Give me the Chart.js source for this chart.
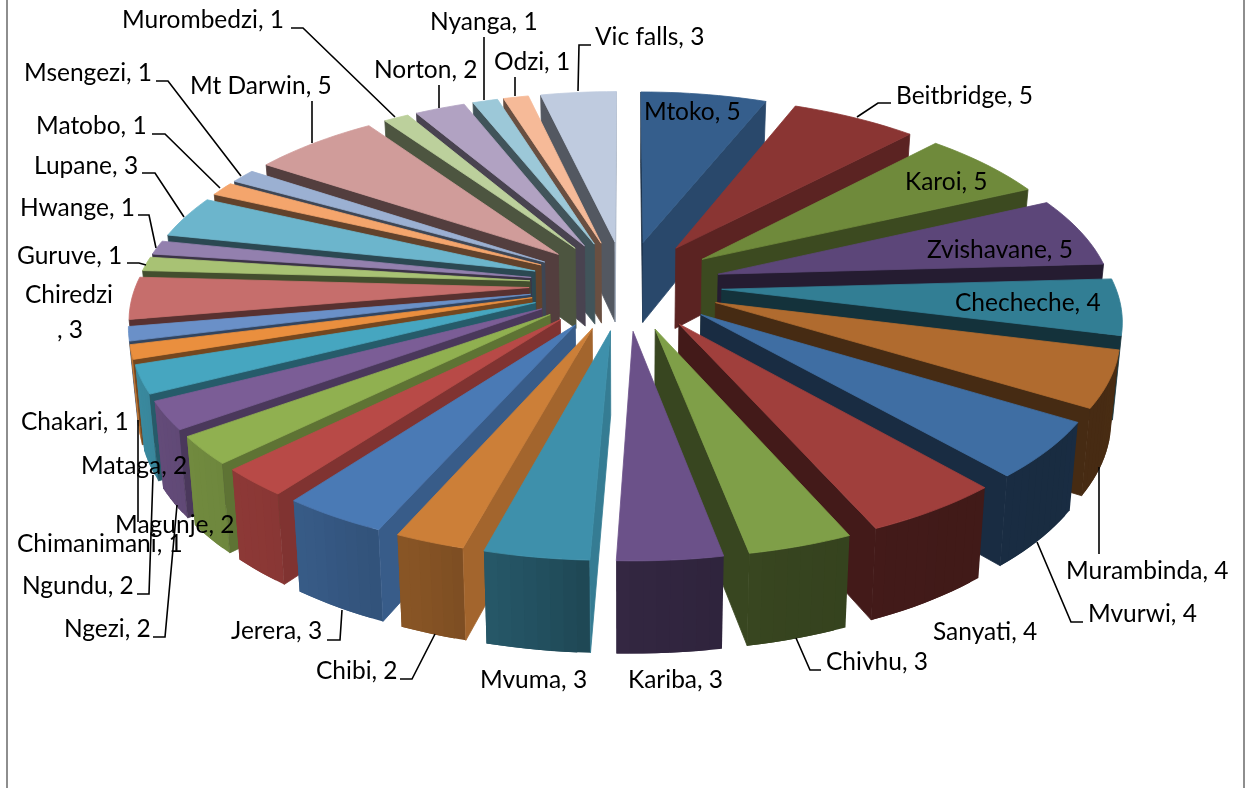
<!DOCTYPE html>
<html>
<head>
<meta charset="utf-8">
<title>Sites</title>
<script src="https://cdn.jsdelivr.net/npm/chart.js@4"></script>
<style>
  html, body { margin: 0; padding: 0; background: #fff; }
  canvas { display: block; }
</style>
</head>
<body>
<canvas id="grafico" width="1248" height="788"></canvas>
<script>
const categories = ["Mtoko", "Beitbridge", "Karoi", "Zvishavane", "Checheche", "Murambinda", "Mvurwi", "Sanyati",
    "Chivhu", "Kariba", "Mvuma", "Chibi", "Jerera", "Ngezi", "Ngundu", "Magunje", "Mataga", "Chimanimani", "Chakari",
    "Chiredzi", "Guruve", "Hwange", "Lupane", "Matobo", "Msengezi", "Mt Darwin", "Murombedzi", "Norton", "Nyanga",
    "Odzi", "Vic falls"];
const values = [5, 5, 5, 5, 4, 4, 4, 4, 3, 3, 3, 2, 3, 2, 2, 2, 2, 1, 1, 3, 1, 1, 3, 1, 1, 5, 1, 2, 1, 1, 3];
const sliceColors = ["#355e8c", "#8a3533", "#6f8a3b", "#5c4679", "#327e94", "#b06b2f", "#3f6ea3", "#a03f3c",
    "#7f9f48", "#6b5189", "#3e90ab", "#cc7f38", "#4a7ab5", "#b84a47", "#90b050", "#7b5d96", "#46a6c0", "#ea8f3e",
    "#6a90c8", "#c66e6c", "#a8c274", "#9380ae", "#6cb5cc", "#f4a56c", "#9bb0d2", "#d09c9a", "#bcd09c", "#b1a2c2",
    "#9cc8d8", "#f6ba98", "#bfcbdf"];

// label anchors: [left, middle y], same order as categories
const labelSpots = [[644, 112], [896, 96], [905, 182], [927, 250], [955, 303], [1066, 571], [1088, 614], [933, 632],
    [826, 662], [628, 680], [480, 680], [316, 671], [231, 631], [64, 629], [22, 586], [115, 525], [81, 466], [17, 544],
    [21, 422], [25, 295], [17, 256], [20, 208], [34, 166], [36, 126], [24, 73], [190, 86], [122, 20], [374, 70],
    [430, 22], [494, 62], [595, 37]];
const leaderLines = [
    [[891, 103], [878, 103], [857, 117]],
    [[1099, 554], [1099, 467]],
    [[1083, 622], [1071, 622], [1037, 542]],
    [[821, 670], [810, 670], [796, 638]],
    [[400, 679], [412, 679], [435, 634]],
    [[327, 640], [340, 640], [342, 610]],
    [[153, 637], [165, 637], [177, 505]],
    [[137, 594], [149, 594], [153, 475]],
    [[138, 522], [138, 420]],
    [[127, 263], [139, 263], [146, 265]],
    [[138, 215], [149, 215], [156, 248]],
    [[142, 173], [155, 173], [184, 217]],
    [[152, 134], [165, 134], [220, 188]],
    [[156, 81], [168, 81], [241, 176]],
    [[312, 101], [312, 143]],
    [[291, 28], [303, 28], [395, 117]],
    [[439, 85], [439, 108]],
    [[484, 37], [484, 100]],
    [[515, 77], [515, 96]],
    [[591, 45], [579, 45], [578, 91]]
];

// tilted view of the pie plane
const view = { cx: 625.5, cy: 285, scale: 1.12, distance: 2788, tilt: 0.465, depth: 82, depthGrow: 0.022, taper: 0.018 };

// brightness of the walls against the compass direction they face (degrees, clockwise from the back)
const sideShade = [[0, 0.4], [90, 0.87], [115, 0.75], [140, 0.63], [177, 0.4], [225, 0.4], [250, 0.42], [270, 0.46], [360, 0.4]];
const rimShade = [[0, 0.45], [130, 0.4], [150, 0.41], [165, 0.43], [180, 0.47], [190, 0.57], [200, 0.65], [215, 0.74], [240, 0.8], [260, 0.85], [360, 0.45]];

function shadeAt(table, deg) {
    deg = (deg % 360 + 360) % 360;
    for (let i = 1; i < table.length; i++) {
        if (deg <= table[i][0]) {
            const t = (deg - table[i - 1][0]) / (table[i][0] - table[i - 1][0]);
            return table[i - 1][1] + t * (table[i][1] - table[i - 1][1]);
        }
    }
    return table[table.length - 1][1];
}

function darken(hex, k) {
    const n = parseInt(hex.slice(1), 16);
    return `rgb(${Math.round((n >> 16) * k)},${Math.round(((n >> 8) & 255) * k)},${Math.round((n & 255) * k)})`;
}

function project(px, pz) {
    const f = view.distance / (view.distance - pz);
    const x = view.cx + px * f;
    const y = view.cy + pz * view.tilt * f;
    return {
        x, y,
        bx: view.cx + (x - view.cx) * (1 - view.taper),
        by: y + view.depth + pz * view.depthGrow
    };
}

function fillPoly(ctx, pts, color, edge) {
    ctx.beginPath();
    pts.forEach((p, i) => i ? ctx.lineTo(p[0], p[1]) : ctx.moveTo(p[0], p[1]));
    ctx.closePath();
    ctx.fillStyle = color;
    ctx.fill();
    if (edge) {
        ctx.strokeStyle = color;
        ctx.lineWidth = 0.8;
        ctx.stroke();
    }
}

// negative area on screen means the wall looks at the viewer
function wall(ctx, a, b, color, edge) {
    const q = [[a.x, a.y], [b.x, b.y], [b.bx, b.by], [a.bx, a.by]];
    let area = 0;
    q.forEach((p, i) => {
        const n = q[(i + 1) % 4];
        area += p[0] * n[1] - n[0] * p[1];
    });
    if (area < 0) fillPoly(ctx, q, color, edge);
}

function drawSlice(ctx, arc, color) {
    const { startAngle, endAngle, outerRadius } = arc.getProps(["startAngle", "endAngle", "outerRadius"], true);
    const mid = (startAngle + endAngle) / 2;
    const off = arc.options.offset * view.scale;
    const r = outerRadius * view.scale;
    const ox = Math.cos(mid) * off;
    const oz = Math.sin(mid) * off;
    const at = a => project(ox + Math.cos(a) * r, oz + Math.sin(a) * r);
    const compass = a => a * 180 / Math.PI + 90;

    const tip = project(ox, oz);
    const steps = Math.max(4, Math.ceil((endAngle - startAngle) / 0.03));
    const rim = [];
    for (let i = 0; i <= steps; i++) rim.push(startAngle + (endAngle - startAngle) * i / steps);

    // each rim strip runs under the next one so no seams show
    for (let i = 0; i < steps; i++) {
        const next = rim[Math.min(i + 2, steps)];
        wall(ctx, at(rim[i]), at(next), darken(color, shadeAt(rimShade, compass((rim[i] + rim[i + 1]) / 2))), false);
    }
    wall(ctx, tip, at(startAngle), darken(color, shadeAt(sideShade, compass(startAngle) - 90)), true);
    wall(ctx, at(endAngle), tip, darken(color, shadeAt(sideShade, compass(endAngle) + 90)), true);
    const top = [[tip.x, tip.y]];
    rim.forEach(a => { const p = at(a); top.push([p.x, p.y]); });
    fillPoly(ctx, top, color, true);
}

const pie3d = {
    id: "pie3d",
    beforeDraw(chart) {
        const ctx = chart.ctx;
        ctx.save();
        ctx.fillStyle = "#fff";
        ctx.fillRect(0, 0, chart.width, chart.height);
        ctx.fillStyle = "#8e8e8e";
        ctx.fillRect(6, 0, 2, chart.height);
        ctx.fillRect(1243, 0, 2, chart.height);
        ctx.restore();
    },
    beforeDatasetDraw(chart, args) {
        const ctx = chart.ctx;
        const order = args.meta.data.map((arc, i) => i).sort((a, b) => {
            const mid = arc => {
                const p = arc.getProps(["startAngle", "endAngle"], true);
                return Math.sin((p.startAngle + p.endAngle) / 2);
            };
            return mid(args.meta.data[a]) - mid(args.meta.data[b]);
        });
        ctx.save();
        order.forEach(i => drawSlice(ctx, args.meta.data[i], sliceColors[i]));
        ctx.restore();
        return false;
    },
    afterDatasetsDraw(chart) {
        const ctx = chart.ctx;
        ctx.save();
        ctx.strokeStyle = "#000";
        ctx.lineWidth = 1.6;
        leaderLines.forEach(line => {
            ctx.beginPath();
            line.forEach((p, i) => i ? ctx.lineTo(p[0], p[1]) : ctx.moveTo(p[0], p[1]));
            ctx.stroke();
        });
        ctx.fillStyle = "#000";
        ctx.font = "24.5px Lato";
        ctx.textBaseline = "middle";
        categories.forEach((name, i) => {
            const [x, y] = labelSpots[i];
            if (name === "Chiredzi") {
                // this one wraps onto a second line
                ctx.fillText(name, x, y);
                ctx.fillText(`, ${values[i]}`, x + 32, y + 35);
            } else {
                ctx.fillText(`${name}, ${values[i]}`, x, y);
            }
        });
        ctx.restore();
    }
};

new Chart(document.getElementById("grafico"), {
    type: "pie",
    plugins: [pie3d],
    data: {
        labels: categories,
        datasets: [{ data: values, backgroundColor: sliceColors, offset: 86, borderWidth: 0 }]
    },
    options: {
        responsive: false,
        animation: false,
        events: [],
        rotation: 0,
        plugins: { legend: { display: false }, tooltip: { enabled: false } }
    }
});
</script>
</body>
</html>
